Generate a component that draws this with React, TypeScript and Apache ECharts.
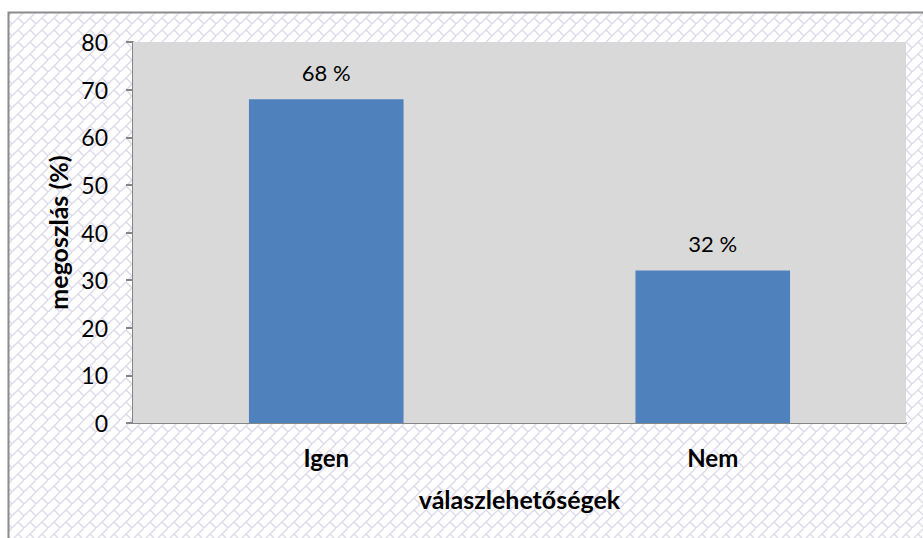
import React, { useEffect, useRef } from "react";
import * as echarts from "echarts";

const categories = ["Igen", "Nem"];
const values = [68, 32];
const yTicks = [0, 10, 20, 30, 40, 50, 60, 70, 80];
const yAxisName = "megoszlás (%)";
const xAxisName = "válaszlehetőségek";

const FONT = "Lato, 'Open Sans', sans-serif";

const tileSvg =
  "<svg xmlns='http://www.w3.org/2000/svg' width='12' height='12'>" +
  "<rect width='12' height='12' fill='white'/>" +
  "<path d='M-1 13 L13 -1' stroke='#dcd8ea' stroke-width='1.3'/>" +
  "<path d='M6 6 L12 12' stroke='#dcd8ea' stroke-width='1.3'/>" +
  "</svg>";
const tileUrl = "data:image/svg+xml;charset=utf-8," + encodeURIComponent(tileSvg);

export default function App() {
  const ref = useRef<HTMLDivElement>(null);
  useEffect(() => {
    if (!ref.current) return;
    const chart = echarts.init(ref.current, undefined, { renderer: "svg" });
    chart.setOption({
      animation: false,
      backgroundColor: "#ffffff",
      graphic: [
        {
          type: "rect",
          z: -10,
          silent: true,
          shape: { x: 8.5, y: 12.5, width: 1000, height: 1000 },
          style: {
            fill: { image: tileUrl, repeat: "repeat" } as any,
            stroke: "#8c8c8c",
            lineWidth: 2,
          },
        },
      ],
      grid: {
        left: 133,
        right: 17,
        top: 42,
        bottom: 115,
        show: true,
        backgroundColor: "#d9d9d9",
        borderWidth: 0,
        z: 1,
      },
      xAxis: {
        type: "category",
        data: categories,
        name: xAxisName,
        nameLocation: "middle",
        nameGap: 63,
        nameTextStyle: { fontFamily: FONT, fontSize: 25, fontWeight: "bold", color: "#000" },
        axisLine: { show: true, lineStyle: { color: "#868686", width: 2 } },
        axisTick: { show: false },
        axisLabel: { fontFamily: FONT, fontSize: 24, fontWeight: "bold", color: "#000", margin: 22 },
        splitLine: { show: false },
      },
      yAxis: {
        type: "value",
        min: yTicks[0],
        max: yTicks[yTicks.length - 1],
        interval: 10,
        name: yAxisName,
        nameLocation: "middle",
        nameGap: 60,
        nameTextStyle: { fontFamily: FONT, fontSize: 25, fontWeight: "bold", color: "#000" },
        axisLine: { show: true, lineStyle: { color: "#868686", width: 2 } },
        axisTick: { show: true, length: 7, lineStyle: { color: "#868686", width: 2 } },
        axisLabel: { fontFamily: FONT, fontSize: 23, color: "#000", margin: 25 },
        splitLine: { show: false },
      },
      series: [
        {
          type: "bar",
          data: values,
          barWidth: "40%",
          itemStyle: { color: "#4f81bd" },
          label: {
            show: true,
            position: "top",
            distance: 16,
            formatter: "{c} %",
            fontFamily: FONT,
            fontSize: 22,
            color: "#000",
          },
        },
      ],
    });
    return () => chart.dispose();
  }, []);
  return (
    <div
      ref={ref}
      style={{ position: "fixed", left: 0, top: 0, width: 923, height: 538 }}
    />
  );
}
